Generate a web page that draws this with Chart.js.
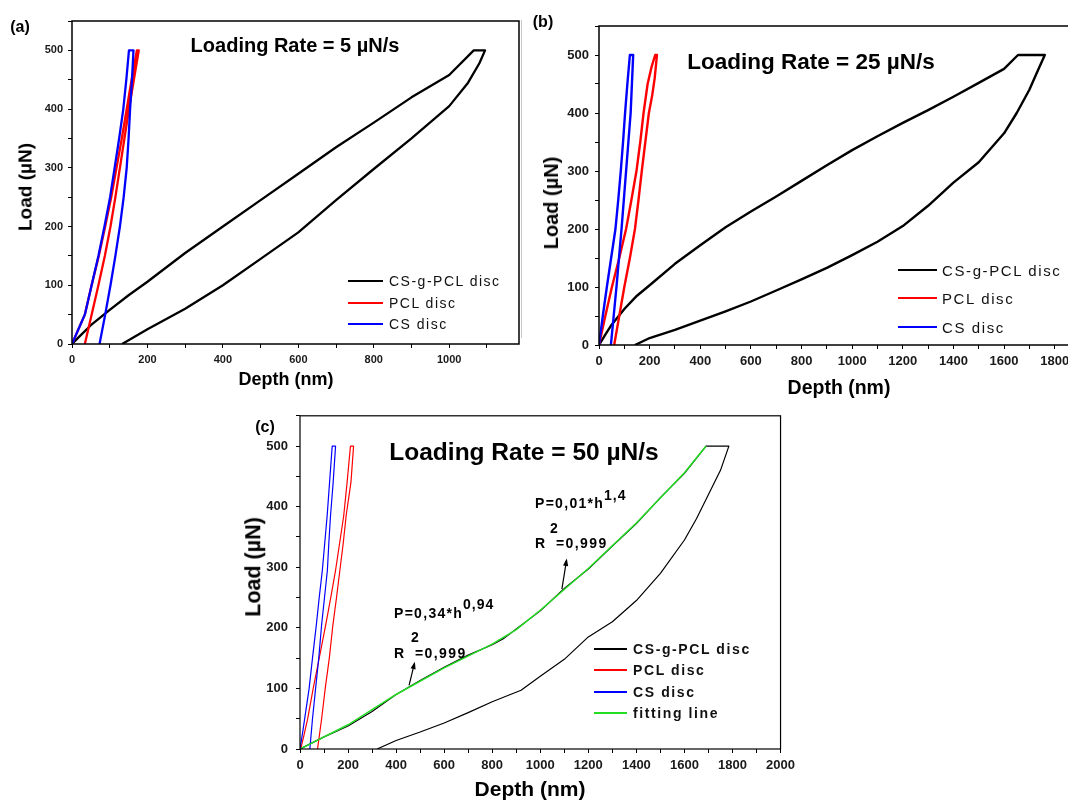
<!DOCTYPE html>
<html>
<head>
<meta charset="utf-8">
<title>Load-depth curves</title>
<script src="https://cdn.jsdelivr.net/npm/chart.js@4.4.0/dist/chart.umd.min.js"></script>
<style>
  html, body { margin: 0; padding: 0; width: 1068px; height: 800px; overflow: hidden; background: #fff; }
  body { position: relative; font-family: "Liberation Sans", Arial, sans-serif; color: #000; }
  canvas { position: absolute; }
  .txt { position: absolute; white-space: nowrap; line-height: 1; }
  .swatch { position: absolute; }
  .sep { position: absolute; left: 521px; top: 20px; width: 1px; height: 318px; background: #c8c8c8; }
</style>
</head>
<body>
<div class="sep"></div>
<canvas id="chartA" width="530" height="400" style="left:0px;top:0px"></canvas>
<canvas id="chartB" width="570" height="400" style="left:530px;top:0px"></canvas>
<canvas id="chartC" width="560" height="400" style="left:240px;top:400px"></canvas>
<script>
// ---- data (depth in nm, load in µN): loading -> hold -> unloading ----

// (a) loading rate 5 µN/s
const aCsgDepth = [0, 20, 50, 100, 150, 200, 300, 400, 500, 600, 700, 800, 900, 1000, 1065, 1095, 1080, 1050, 1000, 900, 800, 700, 600, 500, 400, 300, 200, 133];
const aCsgLoad  = [0, 13, 32, 58, 83, 106, 155, 200, 245, 290, 335, 377, 420, 458, 500, 500, 478, 445, 405, 350, 298, 245, 190, 145, 100, 60, 25, 0];
const aPclDepth = [0, 17, 34, 52, 71, 88, 104, 118, 132, 145, 158, 172, 177, 164, 151, 139, 127, 115, 102, 87, 70, 52, 34];
const aPclLoad  = [0, 25, 50, 100, 150, 200, 250, 300, 350, 400, 450, 500, 500, 450, 400, 350, 300, 250, 200, 150, 100, 50, 0];
const aCsDepth  = [0, 17, 34, 52, 70, 86, 101, 113, 125, 136, 144, 151, 163, 159, 154, 150, 145, 137, 127, 115, 102, 88, 73];
const aCsLoad   = [0, 25, 50, 100, 150, 200, 250, 300, 350, 400, 450, 500, 500, 450, 400, 350, 300, 250, 200, 150, 100, 50, 0];

// (b) loading rate 25 µN/s
const bCsgDepth = [0, 25, 50, 100, 150, 200, 300, 400, 500, 600, 700, 800, 900, 1000, 1100, 1200, 1300, 1400, 1500, 1600, 1655, 1761, 1730, 1700, 1650, 1600, 1500, 1400, 1300, 1200, 1100, 1000, 900, 800, 700, 600, 500, 400, 300, 200, 142];
const bCsgLoad  = [0, 18, 35, 62, 85, 103, 140, 172, 203, 230, 256, 283, 310, 336, 360, 383, 405, 428, 452, 476, 500, 500, 470, 440, 400, 365, 315, 280, 240, 205, 178, 155, 133, 113, 94, 75, 58, 42, 26, 12, 0];
const bPclDepth = [0, 25, 51, 80, 107, 128, 148, 163, 176, 192, 208, 222, 229, 220, 210, 197, 183, 169, 156, 142, 122, 100, 80, 60];
const bPclLoad  = [0, 50, 100, 150, 200, 250, 300, 350, 400, 450, 480, 500, 500, 460, 430, 400, 350, 300, 250, 200, 150, 100, 50, 0];
const bCsDepth  = [0, 15, 31, 48, 65, 76, 86, 95, 103, 112, 122, 135, 130, 125, 116, 107, 98, 89, 79, 69, 58, 47];
const bCsLoad   = [0, 50, 100, 150, 200, 250, 300, 350, 400, 450, 500, 500, 450, 400, 350, 300, 250, 200, 150, 100, 50, 0];

// (c) loading rate 50 µN/s
const cCsgDepth = [0, 100, 200, 300, 400, 500, 600, 700, 800, 850, 900, 1000, 1100, 1200, 1300, 1400, 1500, 1600, 1690, 1785, 1750, 1700, 1650, 1600, 1500, 1400, 1300, 1200, 1100, 1000, 920, 800, 700, 600, 500, 400, 321];
const cCsgLoad  = [0, 20, 38, 62, 90, 113, 135, 155, 172, 183, 198, 228, 265, 297, 335, 372, 415, 455, 500, 500, 460, 420, 380, 345, 290, 245, 210, 185, 148, 120, 97, 78, 60, 43, 28, 14, 0];
const cPclDepth = [3, 15, 32, 55, 80, 107, 128, 148, 165, 182, 196, 210, 223, 212, 192, 180, 166, 152, 137, 122, 105, 90, 73];
const cPclLoad  = [0, 20, 50, 100, 150, 205, 250, 295, 340, 385, 440, 500, 500, 440, 385, 340, 295, 250, 205, 150, 100, 50, 0];
const cCsDepth  = [0, 12, 25, 38, 52, 68, 80, 93, 103, 113, 123, 134, 148, 138, 127, 120, 114, 102, 90, 78, 65, 52, 41];
const cCsLoad   = [0, 30, 65, 100, 150, 205, 250, 295, 340, 385, 440, 500, 500, 440, 385, 340, 295, 250, 205, 150, 100, 50, 0];
const cFitDepth = [0, 200, 400, 600, 800, 900, 1000, 1200, 1400, 1600, 1690];
const cFitLoad  = [0, 40, 90, 134, 173, 197, 229, 298, 373, 456, 500];

// arrows from the fit curve to the equations in (c)
const arrowTailDepth = [454, 1090];
const arrowTailLoad  = [105, 264];
const arrowHeadDepth = [476, 1109];
const arrowHeadLoad  = [141, 311];

// axes
const depthMax = [1185, 1900, 2000];
const loadMax = 550;
const seriesNames = ['CS-g-PCL disc', 'PCL disc', 'CS disc', 'fitting line'];
const seriesColors = ['#000000', '#ff0000', '#0000ff', '#22dd22'];

function pts(xs, ys) {
    return xs.map((x, i) => ({ x: x, y: ys[i] }));
}

// draws the closed box around the plot area
const framePlugin = {
    id: 'frame',
    afterDatasetsDraw(chart, args, opts) {
        const { ctx, chartArea: a } = chart;
        ctx.save();
        ctx.strokeStyle = '#000';
        ctx.lineWidth = opts.width || 1.5;
        ctx.strokeRect(a.left, a.top, a.right - a.left, a.bottom - a.top);
        ctx.restore();
    }
};

// small arrows pointing at the fit equations
const arrowPlugin = {
    id: 'arrows',
    afterDatasetsDraw(chart) {
        const { ctx, scales: { x, y } } = chart;
        ctx.save();
        ctx.strokeStyle = '#000';
        ctx.fillStyle = '#000';
        ctx.lineWidth = 1.2;
        for (let i = 0; i < arrowTailDepth.length; i++) {
            const x0 = x.getPixelForValue(arrowTailDepth[i]), y0 = y.getPixelForValue(arrowTailLoad[i]);
            const x1 = x.getPixelForValue(arrowHeadDepth[i]), y1 = y.getPixelForValue(arrowHeadLoad[i]);
            const ang = Math.atan2(y1 - y0, x1 - x0);
            ctx.beginPath();
            ctx.moveTo(x0, y0);
            ctx.lineTo(x1, y1);
            ctx.stroke();
            ctx.beginPath();
            ctx.moveTo(x1 + 2 * Math.cos(ang), y1 + 2 * Math.sin(ang));
            ctx.lineTo(x1 - 6 * Math.cos(ang - 0.45), y1 - 6 * Math.sin(ang - 0.45));
            ctx.lineTo(x1 - 6 * Math.cos(ang + 0.45), y1 - 6 * Math.sin(ang + 0.45));
            ctx.closePath();
            ctx.fill();
        }
        ctx.restore();
    }
};

function line(data, color, width) {
    return {
        data: data,
        borderColor: color,
        backgroundColor: color,
        borderWidth: width,
        showLine: true,
        pointRadius: 0,
        tension: 0,
        fill: false,
        borderJoinStyle: 'round'
    };
}

function makeChart(id, cfg) {
    const tickFont = { family: '"Liberation Sans", Arial, sans-serif', size: cfg.tickSize, weight: 'bold' };
    return new Chart(document.getElementById(id), {
        type: 'scatter',
        data: { datasets: cfg.datasets },
        plugins: cfg.plugins,
        options: {
            responsive: false,
            animation: false,
            devicePixelRatio: 1,
            layout: { padding: cfg.padding },
            plugins: {
                legend: { display: false },
                tooltip: { enabled: false },
                frame: { width: cfg.frameWidth }
            },
            scales: {
                x: {
                    type: 'linear',
                    min: 0,
                    max: cfg.xMax,
                    afterFit: s => { s.height = cfg.xAxisH; },
                    border: { display: false },
                    grid: { display: true, drawOnChartArea: false, drawTicks: true, tickLength: 4, color: '#000' },
                    ticks: {
                        stepSize: 100,
                        autoSkip: false,
                        maxRotation: 0,
                        includeBounds: false,
                        padding: 5,
                        color: '#1a1a1a',
                        font: tickFont,
                        callback: v => (v % 200 === 0 ? v : '')
                    }
                },
                y: {
                    type: 'linear',
                    min: 0,
                    max: loadMax,
                    afterFit: s => { s.width = cfg.yAxisW; },
                    border: { display: false },
                    grid: { display: true, drawOnChartArea: false, drawTicks: true, tickLength: 4, color: '#000' },
                    ticks: {
                        stepSize: 50,
                        autoSkip: false,
                        includeBounds: false,
                        padding: cfg.yPad,
                        color: '#1a1a1a',
                        font: tickFont,
                        callback: v => (v % 100 === 0 ? v : '')
                    }
                }
            }
        }
    });
}

Chart.defaults.font.family = '"Liberation Sans", Arial, sans-serif';

makeChart('chartA', {
    xMax: depthMax[0], yAxisW: 72, xAxisH: 56, tickSize: 11, yPad: 5, frameWidth: 1.5,
    padding: { top: 21, right: 11, left: 0, bottom: 0 },
    plugins: [framePlugin],
    datasets: [
        line(pts(aCsDepth, aCsLoad), seriesColors[2], 2.3),
        line(pts(aPclDepth, aPclLoad), seriesColors[1], 2.3),
        line(pts(aCsgDepth, aCsgLoad), seriesColors[0], 2.3)
    ]
});

makeChart('chartB', {
    xMax: depthMax[1], yAxisW: 69, xAxisH: 55, tickSize: 13, yPad: 6, frameWidth: 1.5,
    padding: { top: 26, right: 20, left: 0, bottom: 0 },
    plugins: [framePlugin],
    datasets: [
        line(pts(bCsDepth, bCsLoad), seriesColors[2], 2.4),
        line(pts(bPclDepth, bPclLoad), seriesColors[1], 2.4),
        line(pts(bCsgDepth, bCsgLoad), seriesColors[0], 2.4)
    ]
});

makeChart('chartC', {
    xMax: depthMax[2], yAxisW: 60, xAxisH: 51, tickSize: 13, yPad: 8, frameWidth: 1.2,
    padding: { top: 15, right: 17, left: 0, bottom: 0 },
    plugins: [framePlugin, arrowPlugin],
    datasets: [
        line(pts(cFitDepth, cFitLoad), seriesColors[3], 1.5),
        line(pts(cCsDepth, cCsLoad), seriesColors[2], 1.2),
        line(pts(cPclDepth, cPclLoad), seriesColors[1], 1.2),
        line(pts(cCsgDepth, cCsgLoad), seriesColors[0], 1.2)
    ]
});

// ---- text overlays ----
function place(text, x, y, font, opts = {}) {
    const el = document.createElement('div');
    el.className = 'txt';
    el.textContent = text;
    el.style.left = x + 'px';
    el.style.top = y + 'px';
    el.style.font = font;
    el.style.lineHeight = '1';
    const tx = opts.center || opts.rotate ? '-50%' : '0';
    el.style.transform = 'translate(' + tx + ', -50%)' + (opts.rotate ? ' rotate(-90deg)' : '');
    if (opts.spacing) el.style.letterSpacing = opts.spacing;
    if (opts.color) el.style.color = opts.color;
    document.body.appendChild(el);
}

function legend(left, rows, lineLen, lineW, textGap, font, spacing, count) {
    for (let i = 0; i < count; i++) {
        const sw = document.createElement('div');
        sw.className = 'swatch';
        sw.style.left = left + 'px';
        sw.style.top = (rows[i] - lineW / 2) + 'px';
        sw.style.width = lineLen + 'px';
        sw.style.height = lineW + 'px';
        sw.style.background = seriesColors[i];
        document.body.appendChild(sw);
        place(seriesNames[i], left + lineLen + textGap, rows[i], font, { spacing: spacing, color: '#111' });
    }
}

const F = '"Liberation Sans", Arial, sans-serif';

// (a)
place('(a)', 20, 27, 'bold 16px ' + F, { center: true });
place('Loading Rate = 5 µN/s', 295, 45, 'bold 20px ' + F, { center: true });
place('Load (µN)', 25, 187, 'bold 19px ' + F, { rotate: true });
place('Depth (nm)', 286, 379, 'bold 18px ' + F, { center: true });
legend(348, [281, 303, 324], 35, 2.5, 6, '14px ' + F, '1.5px', 3);

// (b)
place('(b)', 543, 22, 'bold 16px ' + F, { center: true });
place('Loading Rate = 25 µN/s', 811, 62, 'bold 22.5px ' + F, { center: true });
place('Load (µN)', 551, 203, 'bold 20px ' + F, { rotate: true });
place('Depth (nm)', 839, 388, 'bold 19.5px ' + F, { center: true });
legend(898, [270, 298, 327], 39, 2.5, 5, '15px ' + F, '1.6px', 3);

// (c)
place('(c)', 265, 427, 'bold 16px ' + F, { center: true });
place('Loading Rate = 50 µN/s', 524, 452, 'bold 24.5px ' + F, { center: true });
place('Load (µN)', 254, 567, 'bold 21.5px ' + F, { rotate: true });
place('Depth (nm)', 530, 788, 'bold 21px ' + F, { center: true });
legend(594, [649, 670, 692, 713], 33, 1.5, 6, 'bold 14px ' + F, '1.6px', 4);

// fit equations in (c)
const eqFont = 'bold 14px ' + F;
place('P=0,34*h', 394, 613, eqFont, { spacing: '1.3px' });
place('0,94', 463, 604, eqFont, { spacing: '1px' });
place('R', 394, 653, eqFont);
place('2', 411, 637, eqFont);
place('=0,999', 415, 653, eqFont, { spacing: '1.4px' });
place('P=0,01*h', 535, 503, eqFont, { spacing: '1.3px' });
place('1,4', 604, 495, eqFont, { spacing: '1px' });
place('R', 535, 543, eqFont);
place('2', 550, 528, eqFont);
place('=0,999', 556, 543, eqFont, { spacing: '1.4px' });
</script>
</body>
</html>
